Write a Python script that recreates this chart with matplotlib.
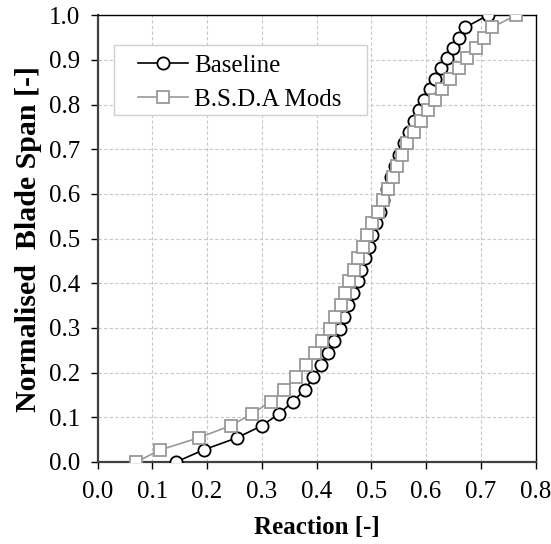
import matplotlib
matplotlib.use("Agg")
import matplotlib.pyplot as plt
from matplotlib.patches import Rectangle

plt.rcParams['font.family'] = ['Liberation Serif', 'DejaVu Serif']
plt.rcParams['font.size'] = 18

span = [0.000, 0.027, 0.054, 0.081, 0.108, 0.135, 0.162, 0.189, 0.216, 0.243,
        0.270, 0.297, 0.324, 0.351, 0.378, 0.404, 0.430, 0.456, 0.482, 0.508,
        0.534, 0.560, 0.586, 0.612, 0.638, 0.663, 0.688, 0.713, 0.738, 0.763,
        0.787, 0.811, 0.834, 0.858, 0.881, 0.904, 0.927, 0.950, 0.973, 1.000]

baseline = [0.144, 0.194, 0.255, 0.300, 0.332, 0.357, 0.379, 0.394, 0.408, 0.421,
            0.432, 0.442, 0.450, 0.457, 0.466, 0.475, 0.482, 0.489, 0.495, 0.502,
            0.508, 0.515, 0.521, 0.528, 0.536, 0.544, 0.551, 0.560, 0.569, 0.578,
            0.587, 0.596, 0.607, 0.617, 0.628, 0.639, 0.650, 0.660, 0.672, 0.713]

bsda = [0.071, 0.115, 0.185, 0.243, 0.283, 0.316, 0.341, 0.363, 0.381, 0.398,
        0.410, 0.424, 0.433, 0.444, 0.452, 0.460, 0.468, 0.476, 0.484, 0.493,
        0.502, 0.512, 0.522, 0.531, 0.539, 0.547, 0.556, 0.566, 0.578, 0.591,
        0.603, 0.616, 0.630, 0.643, 0.660, 0.675, 0.692, 0.706, 0.721, 0.764]

series_labels = ["Baseline", "B.S.D.A Mods"]
xticks = [0.0, 0.1, 0.2, 0.3, 0.4, 0.5, 0.6, 0.7, 0.8]
yticks = [0.0, 0.1, 0.2, 0.3, 0.4, 0.5, 0.6, 0.7, 0.8, 0.9, 1.0]

fig = plt.figure(figsize=(5.51, 5.44), dpi=100)
ax = fig.add_axes([0.177, 0.151, 0.795, 0.821])

ax.plot(baseline, span, color='black', lw=1.2, marker='o', ms=8.8,
        mfc='white', mec='black', mew=1.3, label=series_labels[0], zorder=3)
ax.plot(bsda, span, color='#999999', lw=1.2, marker='s', ms=8.8,
        mfc='white', mec='#999999', mew=1.3, label=series_labels[1], zorder=4)

ax.set_xlim(0, 0.8)
ax.set_ylim(0, 1.0)
ax.set_xticks(xticks)
ax.set_yticks(yticks)
ax.set_xticklabels([f"{v:.1f}" for v in xticks])
ax.set_yticklabels([f"{v:.1f}" for v in yticks])
ax.grid(True, color='#c8c8c8', ls=(0, (3, 2)), lw=0.8)
ax.set_axisbelow(True)

ax.tick_params(axis='x', direction='out', length=5, width=1, pad=8.5, colors='black')
ax.tick_params(axis='y', direction='out', length=5, width=1, pad=7.5, colors='black')

for s in ['left', 'bottom']:
    ax.spines[s].set_color('#404040')
    ax.spines[s].set_linewidth(1.6)
for s in ['top', 'right']:
    ax.spines[s].set_color('black')
    ax.spines[s].set_linewidth(1.0)

ax.set_xlabel("Reaction [-]", fontweight='bold', labelpad=10)
ax.set_ylabel("Normalised  Blade Span [-]", fontweight='bold', fontsize=21.5,
              labelpad=5)

ax.add_patch(Rectangle((0.0377, 0.776), 0.577, 0.157, transform=ax.transAxes,
                       facecolor='white', edgecolor='#d0d0d0', lw=1.0, zorder=5))
leg = ax.legend(loc='upper left', bbox_to_anchor=(0.0925, 0.912), frameon=False,
                borderpad=0, borderaxespad=0, handlelength=2.0, handletextpad=0.25,
                labelspacing=0.45)
leg.set_zorder(6)

fig.savefig("out.png", dpi=100)
